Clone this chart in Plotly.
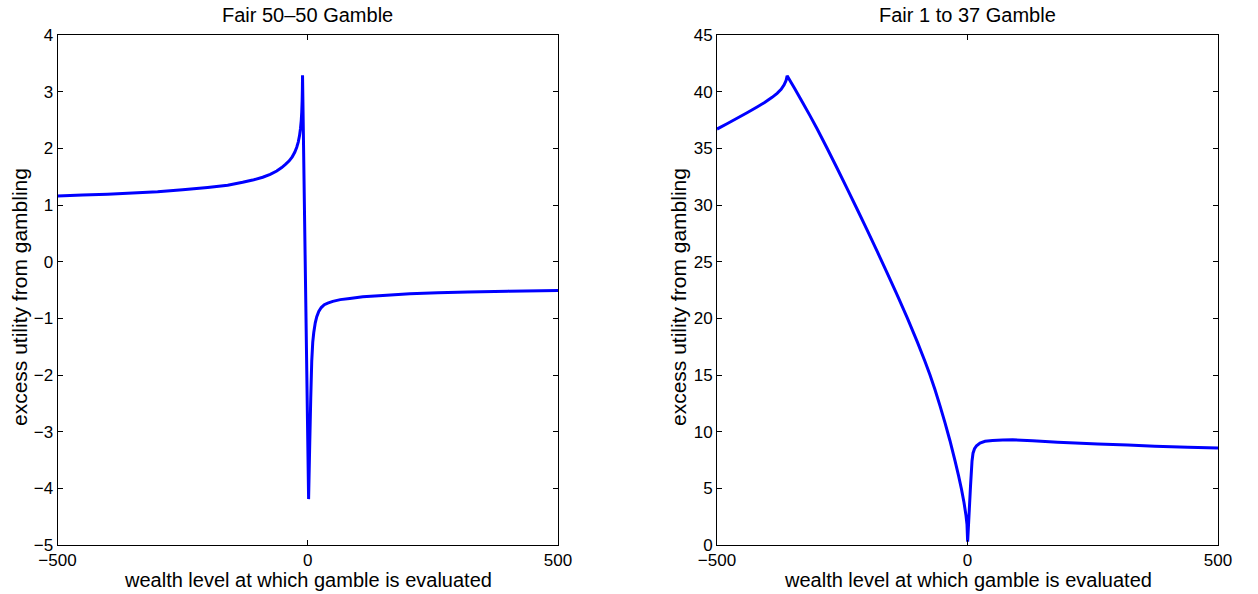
import plotly.graph_objects as go

# ---- data ----
left_x = [-500, -450, -400, -350, -300, -250, -200, -160, -130, -110, -90, -75, -62, -52, -44,
          -37, -31, -26, -22, -19, -16.5, -14.5, -13, -12, -11.2, -10.7, -10.4,
          1.7, 4, 6, 8, 10, 12, 15, 18, 22, 27, 33, 40, 50, 65, 84, 110, 150, 204, 260, 320,
          400, 500]
left_y = [1.16, 1.175, 1.19, 1.21, 1.235, 1.27, 1.31, 1.35, 1.40, 1.44, 1.49, 1.54, 1.60, 1.66,
          1.72, 1.78, 1.85, 1.93, 2.02, 2.11, 2.22, 2.35, 2.49, 2.64, 2.84, 3.05, 3.29,
          -4.19, -3.2, -2.4, -1.75, -1.42, -1.25, -1.08, -0.97, -0.88, -0.81, -0.76, -0.73,
          -0.70, -0.67, -0.65, -0.62, -0.595, -0.565, -0.55, -0.535, -0.52, -0.51]

right_x = [-500, -480, -460, -440, -420, -405, -390, -380, -372, -366, -362, -360,
           -345, -330, -315, -300, -280, -260, -240, -220, -200, -180, -160, -140, -120, -100,
           -85, -75, -65, -55, -45, -35, -25, -18, -12, -7, -3, -1, 0.3,
           3, 6, 9, 11, 14, 18, 25, 35, 50, 70, 90, 130, 180, 215, 260, 320, 374, 440, 500]
right_y = [36.7, 37.17, 37.65, 38.14, 38.65, 39.05, 39.5, 39.85, 40.2, 40.6, 41.0, 41.4,
           40.28, 39.12, 37.93, 36.7, 34.98, 33.22, 31.42, 29.6, 27.76, 25.88, 23.97, 22.02, 20.02,
           17.9, 16.22, 15.02, 13.72, 12.3, 10.8, 9.2, 7.45, 6.15, 4.92, 3.75, 2.6, 1.8, 0.3,
           2.6, 5.2, 7.4, 8.1, 8.5, 8.75, 9.0, 9.15, 9.23, 9.27, 9.28, 9.2, 9.07, 9.0, 8.92,
           8.82, 8.72, 8.63, 8.55]

x_ticks = [-500, 0, 500]
left_yticks = [-5, -4, -3, -2, -1, 0, 1, 2, 3, 4]
right_yticks = [0, 5, 10, 15, 20, 25, 30, 35, 40, 45]

titles = ["Fair 50\u201350 Gamble", "Fair 1 to 37 Gamble"]
xlabel = "wealth level at which gamble is evaluated"
ylabel = "excess utility from gambling"

W, H = 1258, 594
FONT = "Liberation Sans, Arial, Helvetica, sans-serif"

fig = go.Figure()
fig.add_trace(go.Scatter(x=left_x, y=left_y, mode="lines",
                         line=dict(color="#0000ff", width=3, simplify=False),
                         xaxis="x", yaxis="y", showlegend=False, hoverinfo="skip"))
fig.add_trace(go.Scatter(x=right_x, y=right_y, mode="lines",
                         line=dict(color="#0000ff", width=3, simplify=False),
                         xaxis="x2", yaxis="y2", showlegend=False, hoverinfo="skip"))

ydom = [1 - 545 / H, 1 - 35 / H]
xdom1 = [57.5 / W, 558 / W]
xdom2 = [717 / W, 1218 / W]

axis_common = dict(showline=True, linecolor="black", linewidth=1, mirror="ticks",
                   ticks="inside", ticklen=5, tickcolor="black", showgrid=False,
                   zeroline=False, tickfont=dict(family=FONT, size=17, color="black"),
                   automargin=False, fixedrange=True)

fig.update_layout(
    width=W, height=H,
    margin=dict(l=0, r=0, t=0, b=0),
    paper_bgcolor="white", plot_bgcolor="white",
    font=dict(family=FONT, color="black"),
    xaxis=dict(domain=xdom1, range=[-500, 500], tickvals=x_ticks, anchor="y", **axis_common),
    yaxis=dict(domain=ydom, range=[-5, 4], tickvals=left_yticks, anchor="x", **axis_common),
    xaxis2=dict(domain=xdom2, range=[-500, 500], tickvals=x_ticks, anchor="y2", **axis_common),
    yaxis2=dict(domain=ydom, range=[0, 45], tickvals=right_yticks, anchor="x2", **axis_common),
)

anns = []
for i, dom in enumerate([xdom1, xdom2]):
    cx = (dom[0] + dom[1]) / 2
    anns.append(dict(text=titles[i], x=cx, y=1 - 15 / H, xref="paper", yref="paper",
                     xanchor="center", yanchor="middle", showarrow=False,
                     font=dict(family=FONT, size=20, color="black")))
    anns.append(dict(text=xlabel, x=cx, y=1 - 580 / H, xref="paper", yref="paper",
                     xanchor="center", yanchor="middle", showarrow=False,
                     font=dict(family=FONT, size=20, color="black")))
    lx = 19 if i == 0 else 678
    anns.append(dict(text=ylabel, x=lx / W, y=1 - 297 / H, xref="paper", yref="paper",
                     xanchor="center", yanchor="middle", showarrow=False, textangle=-90,
                     font=dict(family=FONT, size=21, color="black")))
fig.update_layout(annotations=anns)

fig.write_html("out.html", config={"displayModeBar": False},
               post_script="document.body.style.margin='0';document.body.style.overflow='hidden';")
